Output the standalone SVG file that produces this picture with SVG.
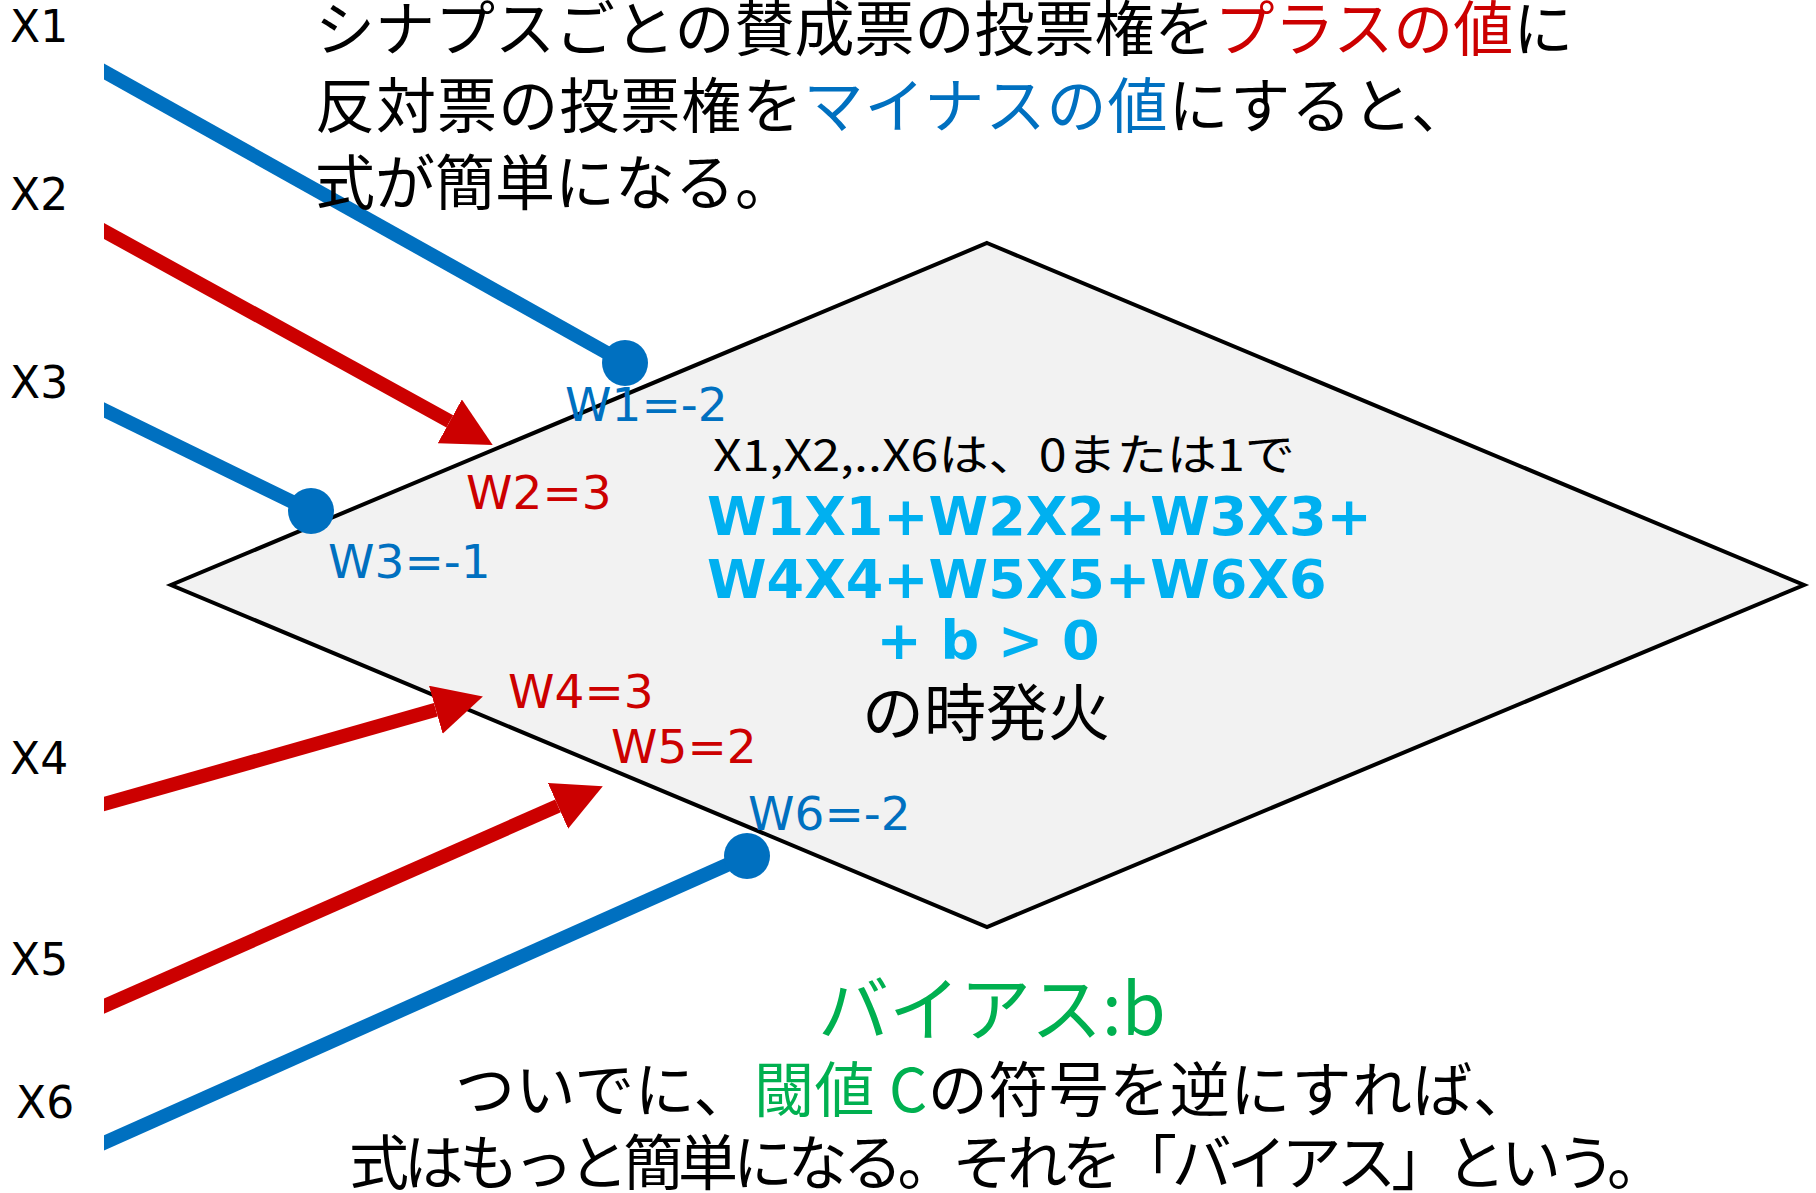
<svg xmlns="http://www.w3.org/2000/svg" width="1816" height="1193" viewBox="0 0 1816 1193">
<style>
.jp{font-family:"Noto Sans CJK JP","Noto Sans",sans-serif;}
.lat{font-family:"DejaVu Sans","Liberation Sans",sans-serif;}
.xl{font-family:"DejaVu Sans","Liberation Sans",sans-serif;font-size:44px;fill:#000;}
.wl{font-family:"DejaVu Sans","Liberation Sans",sans-serif;font-size:47px;}
.blue{fill:#0070C0;}
.red{fill:#CC0000;}
.cyan{fill:#00B0F0;}
.green{fill:#00B050;}
.blk{fill:#000;}
.lb{stroke:#0070C0;stroke-width:14;fill:none;}
.lr{stroke:#CC0000;stroke-width:14;fill:none;marker-end:url(#ah);}
.dot{fill:#0070C0;}
</style>
<defs>
<marker id="ah" markerUnits="userSpaceOnUse" markerWidth="50" markerHeight="50" refX="0" refY="24" orient="auto" viewBox="0 0 48 48">
<path d="M0,0 L47,24 L0,48 z" fill="#CC0000"/>
</marker>
<clipPath id="cl"><rect x="104" y="0" width="1712" height="1193"/></clipPath>
</defs>

<g id="neuron">
<polygon points="987,243 1804,585 987,927 171,585" fill="#F2F2F2" stroke="#000" stroke-width="4" stroke-linejoin="miter"/>
</g>

<g id="connectors" clip-path="url(#cl)">
<line class="lb" x1="90" y1="63.7" x2="625" y2="363"/>
<line class="lr" x1="90" y1="223.3" x2="449.8" y2="421.3"/>
<line class="lb" x1="90" y1="403.2" x2="311" y2="511"/>
<line class="lr" x1="90" y1="808" x2="435.8" y2="709.8"/>
<line class="lr" x1="90" y1="1012.2" x2="558" y2="805.9"/>
<line class="lb" x1="90" y1="1149.2" x2="747" y2="856"/>
<circle class="dot" cx="625" cy="363" r="23"/>
<circle class="dot" cx="311" cy="511" r="23"/>
<circle class="dot" cx="747" cy="856" r="23"/>
</g>

<g id="inputs">
<text class="xl" x="10" y="42">X1</text>
<text class="xl" x="10" y="210">X2</text>
<text class="xl" x="10" y="398">X3</text>
<text class="xl" x="10" y="774">X4</text>
<text class="xl" x="10" y="975">X5</text>
<text class="xl" x="16" y="1118">X6</text>
</g>

<g id="weights">
<text class="wl blue" x="565" y="421">W1=-2</text>
<text class="wl red" x="466" y="509">W2=3</text>
<text class="wl blue" x="328" y="578">W3=-1</text>
<text class="wl red" x="508" y="708">W4=3</text>
<text class="wl red" x="611" y="763">W5=2</text>
<text class="wl blue" x="748" y="830">W6=-2</text>
</g>

<g id="title">
<text class="jp blk" font-size="60" x="315" y="51">シナプスごとの賛成票の投票権を<tspan class="red">プラスの値</tspan>に</text>
<text class="jp blk" font-size="60" x="315" y="128" textLength="1156" lengthAdjust="spacing">反対票の投票権を<tspan class="blue">マイナスの値</tspan>にすると、</text>
<text class="jp blk" font-size="60" x="315" y="205">式が簡単になる。</text>
</g>

<g id="formula">
<text class="jp blk" font-size="44" x="713" y="471" textLength="582" lengthAdjust="spacingAndGlyphs">X1,X2,..X6は、0または1で</text>
<text class="lat cyan" font-size="54" font-weight="bold" x="707" y="535">W1X1+W2X2+W3X3+</text>
<text class="lat cyan" font-size="54" font-weight="bold" x="707" y="598">W4X4+W5X5+W6X6</text>
<text class="lat cyan" font-size="54" font-weight="bold" x="988" y="659" text-anchor="middle">+ b &gt; 0</text>
<text class="jp blk" font-size="62" x="862" y="736">の時発火</text>
</g>

<g id="bias">
<text class="jp green" font-size="71" x="818" y="1035">バイアス:b</text>
<text class="jp blk" font-size="60" x="455" y="1112" textLength="1078" lengthAdjust="spacing">ついでに、<tspan class="green">閾値 C</tspan>の符号を逆にすれば、</text>
<text class="jp blk" font-size="60" x="349" y="1185" textLength="1318" lengthAdjust="spacing">式はもっと簡単になる。それを「バイアス」という。</text>
</g>
</svg>
